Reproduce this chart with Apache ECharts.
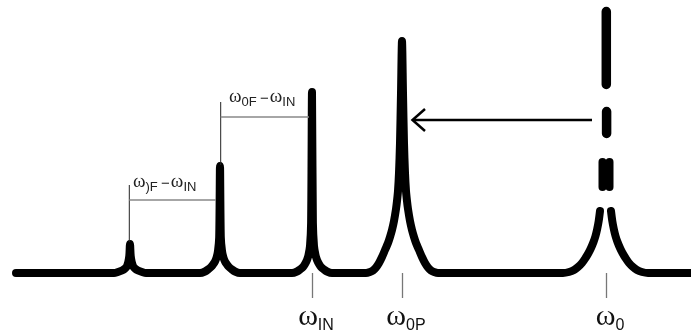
<!DOCTYPE html>
<html>
<head>
<meta charset="utf-8">
<script src="https://cdn.jsdelivr.net/npm/echarts@6/dist/echarts.min.js"></script>
<style>
  html, body { margin: 0; padding: 0; background: #fff; }
  #chart { width: 691px; height: 335px; }
</style>
</head>
<body>
<div id="chart"></div>
<script>
// Spectrum: frequency (x) against amplitude (y), baseline at amplitude 0.
const baselineStart = [[16, 0]];
const sideband2 = [[114,0],[118,1],[122,2.5],[125,4.5],[127,7],[128.3,11],[129.3,17],[130,29],[130.7,17],[131.7,11],[133,7],[135,4.5],[138,2.5],[142,1],[146,0]];
const sideband1 = [[200,0],[205,1.5],[208,3.5],[211,6],[213,8.5],[215,11.5],[216.7,16],[218,22],[219.2,36],[220,107],[220.8,36],[222,22],[223.3,16],[225,11.5],[227,8.5],[229,6],[232,3.5],[235,1.5],[240,0]];
const inputPeak = [[292,0],[297,1.5],[300,3.5],[303,6],[305,9],[307,13],[308.5,18],[310,27],[311.1,50],[312,181],[312.9,50],[314,27],[315.5,18],[317,13],[319,9],[321,6],[324,3.5],[327,1.5],[332,0]];
const shiftedPeak = [[366,0],[370,1],[373,2.5],[376,5.5],[379,10],[382,16],[385,23],[388,30],[390,36],[392,43],[394,52],[396,64],[397,72],[398,82],[399,100],[400,130],[401,180],[402,232],[403,180],[404,130],[405,100],[406,82],[407,72],[408,64],[410,52],[412,43],[414,36],[416,30],[419,23],[422,16],[425,10],[428,5.5],[431,2.5],[434,1],[438,0]];
const lowerLobe = [[563,0],[569,1],[574,3],[578,6],[582,10],[585.5,15],[588.5,20],[591,25],[593.5,31],[595.5,37],[597.2,44],[598.7,52],[600,62]];
const upperLobe = [[611,62],[612.3,52],[613.8,44],[615.5,37],[617.5,31],[620,25],[622.5,20],[625.5,15],[629,10],[633,6],[637,3],[642,1],[648,0],[700,0]];
// Broken (dashed) top of the unshifted resonance
const resonanceTop = [[606.3,261.5],[606.3,188.5],[606.3,'-'],[606.6,161.5],[606.6,139.5]];
const resonanceTopLeft = [[602.5,111],[602.5,86]];
const resonanceTopRight = [[609.5,111],[609.5,86]];

// Marked frequencies on the axis
const markedFreqs = [312, 402, 606];
const markedNames = ['IN', '0P', '0'];

const chart = echarts.init(document.getElementById('chart'), null, { renderer: 'canvas' });

const thick = { color: '#000', width: 8, cap: 'round', join: 'round' };

chart.setOption({
  animation: false,
  backgroundColor: '#fff',
  grid: { left: 0, right: 0, top: 0, bottom: 62 },
  xAxis: {
    type: 'value', min: 0, max: 691,
    axisLine: { show: false },
    splitLine: { show: false },
    axisTick: {
      show: true, inside: false, length: 25,
      customValues: markedFreqs,
      lineStyle: { color: '#777', width: 1.3 }
    },
    axisLabel: {
      show: true,
      customValues: markedFreqs,
      margin: 29,
      formatter: function (v) {
        const i = markedFreqs.indexOf(v);
        return '{w|ω}{s|' + markedNames[i] + '}';
      },
      rich: {
        w: { fontFamily: 'Liberation Serif', fontSize: 30, color: '#111', verticalAlign: 'bottom', padding: [0, 0, 2, 8] },
        s: { fontFamily: 'Liberation Sans', fontSize: 16, color: '#111', verticalAlign: 'bottom' }
      }
    }
  },
  yAxis: {
    type: 'value', min: 0, max: 273,
    show: false
  },
  series: [
    {
      type: 'line', clip: false, symbol: 'none', silent: true, smooth: 0.3,
      lineStyle: thick,
      data: [].concat(baselineStart, sideband2, sideband1, inputPeak, shiftedPeak, lowerLobe)
    },
    {
      type: 'line', clip: false, symbol: 'none', silent: true, smooth: 0.3,
      lineStyle: thick, data: upperLobe
    },
    {
      type: 'line', clip: false, symbol: 'none', silent: true, connectNulls: false,
      lineStyle: { color: '#000', width: 9.5, cap: 'round' }, data: resonanceTop
    },
    {
      type: 'line', clip: false, symbol: 'none', silent: true,
      lineStyle: { color: '#000', width: 8, cap: 'round' }, data: resonanceTopLeft
    },
    {
      type: 'line', clip: false, symbol: 'none', silent: true,
      lineStyle: { color: '#000', width: 8, cap: 'round' }, data: resonanceTopRight
    }
  ]
});

// Annotations: spacing brackets, shift arrow
function px(x, y) { return chart.convertToPixel({ gridIndex: 0 }, [x, y]); }
function seg(a, b, color, w) {
  const p = px(a[0], a[1]), q = px(b[0], b[1]);
  return { type: 'line', silent: true, z: 10,
    shape: { x1: p[0], y1: p[1], x2: q[0], y2: q[1] },
    style: { stroke: color, lineWidth: w } };
}
function poly(points, color, w) {
  return { type: 'polyline', silent: true, z: 10,
    shape: { points: points.map(function (d) { return px(d[0], d[1]); }) },
    style: { stroke: color, lineWidth: w, fill: null, lineJoin: 'miter' } };
}
function label(x, y, sub) {
  const p = px(x, y);
  return { type: 'text', silent: true, z: 10, x: p[0], y: p[1],
    style: {
      text: '{w|ω}{s|' + sub + '} {m|−}{w|ω}{s|IN}',
      verticalAlign: 'bottom', align: 'left',
      rich: {
        w: { fontFamily: 'Liberation Serif', fontSize: 19, fill: '#222', verticalAlign: 'bottom', padding: [0, 0, 2, 0] },
        s: { fontFamily: 'Liberation Sans', fontSize: 13, fill: '#222', verticalAlign: 'bottom' },
        m: { fontFamily: 'Liberation Sans', fontSize: 15, fill: '#222', verticalAlign: 'bottom', padding: [0, 1, 3, 0] }
      }
    } };
}

chart.setOption({
  graphic: [
    seg([129.3, 88], [129.3, 31], '#222', 1),
    seg([129.3, 73], [216, 73], '#888', 1.5),
    seg([220.7, 171], [220.7, 108], '#222', 1),
    seg([220.7, 156], [309, 156], '#888', 1.5),
    seg([592, 153], [414, 153], '#000', 2.5),
    poly([[425, 164], [412.5, 153], [425, 142]], '#000', 2.5),
    label(133, 79, ')F'),
    label(229, 164, '0F')
  ]
});
</script>
</body>
</html>
